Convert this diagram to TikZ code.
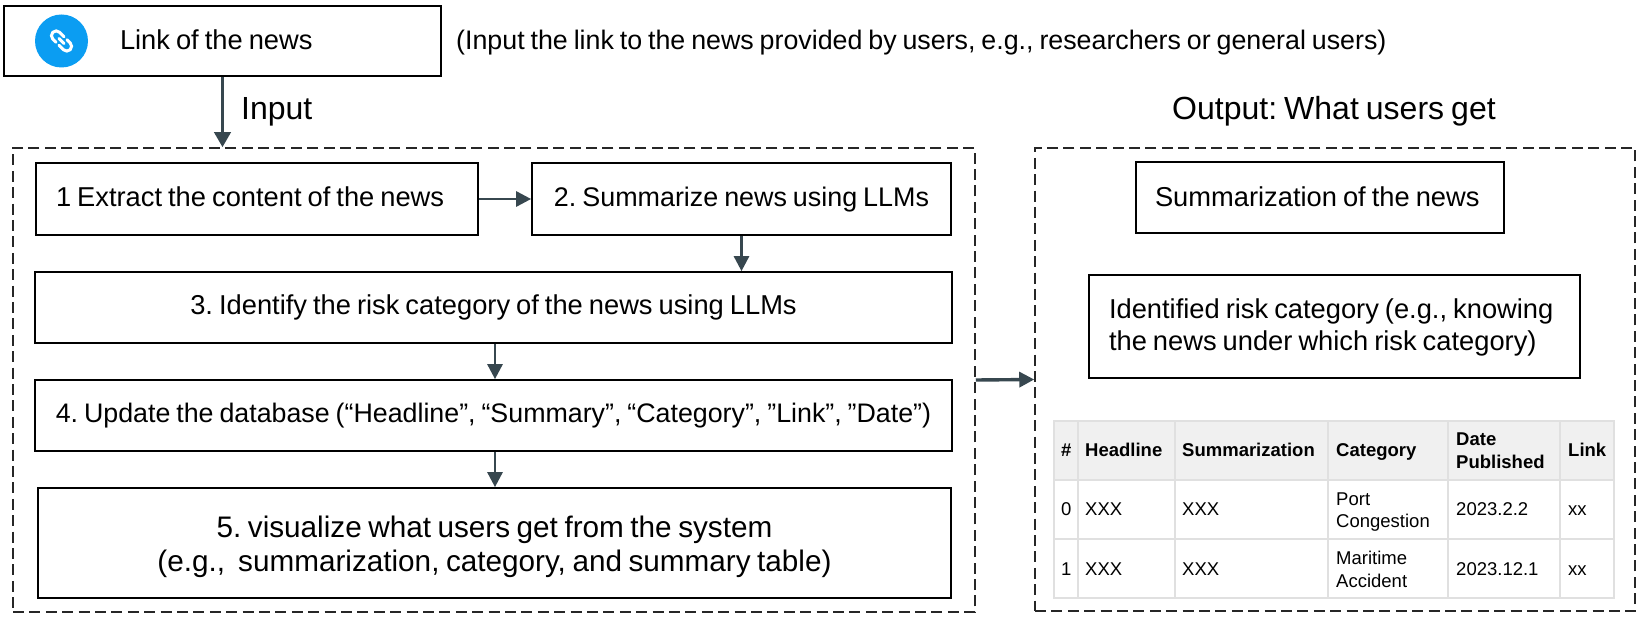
\documentclass[tikz,border=0pt]{standalone}
\usepackage{fontspec}
\setmainfont{Liberation Sans}
\usetikzlibrary{arrows.meta}

\definecolor{arrowgray}{HTML}{37474F}
\definecolor{linkblue}{HTML}{0B9DF2}
\definecolor{headgray}{HTML}{F0F0F0}
\definecolor{rulegray}{HTML}{E0E0E0}

% strut that puts the baseline below the middle of a box, by half of its argument
\newcommand{\boxstrut}[1]{\rule[-8pt]{0pt}{\dimexpr14pt+#1pt\relax}}
\newcommand{\tightspaces}{\spaceskip=.22em\relax\xspaceskip=.22em\relax}
\newcommand{\boxfont}[2]{\fontsize{#1}{#2}\selectfont\tightspaces}

\tikzset{
	stepbox/.style={draw=black,line width=1.7pt,inner sep=0pt,align=center,font=\boxfont{27.3}{32},execute at begin node={\tightspaces}},
	framebox/.style={draw=black!85,line width=1.5pt,dash pattern=on 11pt off 5.4pt,inner sep=0pt},
	flow/.style={draw=arrowgray,line width=2.8pt,-{Triangle[length=15pt,width=15pt]}},
	bigflow/.style={flow,line width=3.7pt,-{Triangle[length=15pt,width=16pt]}},
	title/.style={inner sep=0pt,anchor=base west,font=\boxfont{32}{38}},
	tablehead/.style={inner sep=0pt,anchor=base west,align=left,font=\fontsize{18.5}{22.5}\selectfont\bfseries},
	tablecell/.style={inner sep=0pt,anchor=base west,align=left,font=\fontsize{18.5}{22.5}\selectfont},
}

\begin{document}
\begin{tikzpicture}[x=1pt,y=-1pt]
	\useasboundingbox (0,0) rectangle (1641,617);

	% dashed frames
	\node[framebox,minimum width=962,minimum height=464] (inputframe) at (494,380) {};
	\node[framebox,minimum width=600,minimum height=463] (outputframe) at (1335,379.5) {};

	% link of the news
	\node[stepbox,minimum width=437,minimum height=70,text width=317,inner xsep=60,align=left] (linkbox) at (222.5,41) {\boxstrut{19}\hspace*{56pt}Link of the news};
	\node[inner sep=0pt,anchor=base west,font=\boxfont{26.8}{32}] (linknote) at (456,50) {(Input the link to the news provided by users, e.g., researchers or general users)};
	\fill[linkblue] (61.5,41) circle (26.5);
	\begin{scope}[shift={(61.5,41)},rotate=-45,white,line width=3pt,line cap=round]
		\draw (-1,-4.8) -- (-7.5,-4.8) arc (270:90:4.8) -- (-3,4.8);
		\draw (1,4.8) -- (7.5,4.8) arc (90:-90:4.8) -- (3,-4.8);
		\draw (-3.5,0) -- (3.5,0);
	\end{scope}

	\node[title] (inputtitle) at (241,120) {Input};
	\node[title] (outputtitle) at (1172,119.5) {Output: What users get};

	% steps of the system
	\node[stepbox,minimum width=442,minimum height=72,text width=402,inner xsep=20,align=left] (extract) at (257,199) {\boxstrut{18}1 Extract the content of the news};
	\node[stepbox,minimum width=419,minimum height=72,font=\boxfont{26.9}{32}] (summarize) at (741.5,199) {\boxstrut{18}2. Summarize news using LLMs};
	\node[stepbox,minimum width=917,minimum height=71] (identify) at (493.5,307.5) {\boxstrut{16.5}3. Identify the risk category of the news using LLMs};
	\node[stepbox,minimum width=917,minimum height=71,font=\boxfont{26.8}{32}] (update) at (493.5,415.5) {\boxstrut{15}4. Update the database (“Headline”, “Summary”, “Category”, ”Link”, ”Date”)};
	\node[stepbox,minimum width=913,minimum height=110,font=\boxfont{29.7}{34}] (visualize) at (494.5,543) {\boxstrut{24}5. visualize what users get from the system\\(e.g.,~ summarization, category, and summary table)\rule[-8pt]{0pt}{8pt}};

	% what users get
	\node[stepbox,minimum width=368,minimum height=71,text width=330,inner xsep=19,align=left] (summary) at (1320,197.5) {\boxstrut{20}Summarization of the news};
	\node[stepbox,minimum width=491,minimum height=103,text width=451,inner xsep=20,align=left] (category) at (1334.5,326.5) {\boxstrut{19}Identified risk category (e.g., knowing\\the news under which risk category)\rule[-8pt]{0pt}{8pt}};

	\draw[bigflow] (linkbox.south) -- (linkbox.south |- inputframe.north);
	\draw[flow] (extract.east) -- (summarize.west);
	\draw[flow] (summarize.south) -- (identify.north -| summarize.south);
	\draw[flow] ([xshift=1.5pt]identify.south) -- ([xshift=1.5pt]update.north);
	\draw[flow] ([xshift=1.5pt]update.south) -- ([xshift=0.5pt]visualize.north);
	\draw[flow,line width=3.4pt] (inputframe.east) -- (outputframe.west);

	% table
	\fill[headgray] (1054,421) rectangle (1614,480);
	\draw[rulegray,line width=1.6pt] (1054,421) rectangle (1614,598);
	\foreach \y in {480,539}
		\draw[rulegray,line width=1.6pt] (1054,\y) -- (1614,\y);
	\foreach \x in {1078,1175,1328,1448,1560}
		\draw[rulegray,line width=1.6pt] (\x,421) -- (\x,598);

	\foreach \x/\name/\txt in {1061/hnum/\#,1085/hhead/Headline,1182/hsum/Summarization,1336/hcat/Category,1568/hlink/Link}
		\node[tablehead] (\name) at (\x,456.7) {\txt};
	\node[tablehead] (hdate) at (1456,468.3) {Date\\Published};

	\foreach \x/\name/\txt in {1061/anum/0,1085/ahead/XXX,1182/asum/XXX,1456/adate/2023.2.2,1568/alink/xx}
		\node[tablecell] (\name) at (\x,515.7) {\txt};
	\node[tablecell] (acat) at (1336,527.7) {Port\\Congestion};

	\foreach \x/\name/\txt in {1061/bnum/1,1085/bhead/XXX,1182/bsum/XXX,1456/bdate/2023.12.1,1568/blink/xx}
		\node[tablecell] (\name) at (\x,575) {\txt};
	\node[tablecell] (bcat) at (1336,587) {Maritime\\Accident};
\end{tikzpicture}
\end{document}
